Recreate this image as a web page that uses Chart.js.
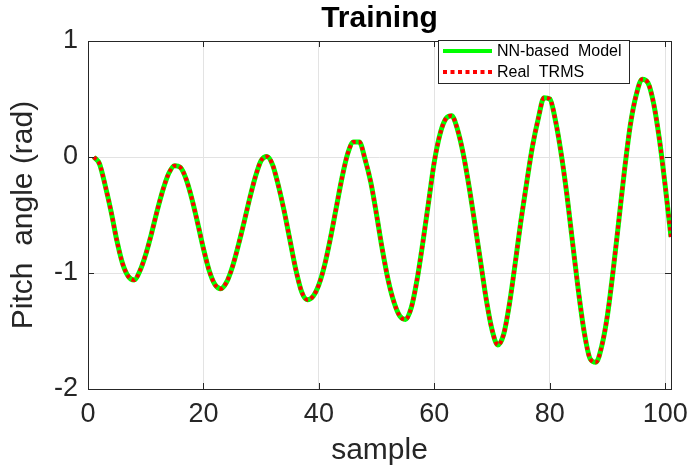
<!DOCTYPE html>
<html>
<head>
<meta charset="utf-8">
<script src="https://cdn.jsdelivr.net/npm/chart.js@4/dist/chart.umd.min.js"></script>
<style>
html,body{margin:0;padding:0;background:#fff;}
#wrap{width:689px;height:469px;position:relative;}
</style>
</head>
<body>
<div id="wrap"><canvas id="c" width="689" height="469"></canvas></div>
<script>
const samples = [1,2,3,4,5,6,7,8,9,10,11,12,13,14,15,16,17,18,19,20,21,22,23,24,25,26,27,28,29,30,31,32,33,34,35,36,37,38,39,40,41,42,43,44,45,46,47,48,49,50,51,52,53,54,55,56,57,58,59,60,61,62,63,64,65,66,67,68,69,70,71,72,73,74,75,76,77,78,79,80,81,82,83,84,85,86,87,88,89,90,91,92,93,94,95,96,97,98,99,100,101];
const nnModel = [0,-0.06,-0.25,-0.47,-0.72,-0.92,-1.03,-1.06,-0.98,-0.84,-0.66,-0.46,-0.28,-0.14,-0.075,-0.09,-0.19,-0.36,-0.57,-0.79,-0.98,-1.1,-1.135,-1.08,-0.95,-0.77,-0.57,-0.36,-0.17,-0.03,0.005,-0.07,-0.25,-0.47,-0.72,-0.97,-1.16,-1.23,-1.2,-1.1,-0.93,-0.7,-0.44,-0.18,0.03,0.13,0.13,-0.02,-0.22,-0.5,-0.8,-1.06,-1.25,-1.37,-1.4,-1.3,-1.06,-0.74,-0.39,-0.04,0.2,0.33,0.355,0.24,0.03,-0.25,-0.57,-0.9,-1.23,-1.49,-1.62,-1.53,-1.27,-0.92,-0.55,-0.22,0.09,0.33,0.51,0.5,0.31,0.02,-0.34,-0.76,-1.17,-1.52,-1.74,-1.77,-1.63,-1.36,-0.97,-0.53,-0.09,0.29,0.54,0.67,0.64,0.46,0.15,-0.25,-0.69];
const realTRMS = [0,-0.06,-0.25,-0.47,-0.72,-0.92,-1.03,-1.06,-0.98,-0.84,-0.66,-0.46,-0.28,-0.14,-0.075,-0.09,-0.19,-0.36,-0.57,-0.79,-0.98,-1.1,-1.135,-1.08,-0.95,-0.77,-0.57,-0.36,-0.17,-0.03,0.005,-0.07,-0.25,-0.47,-0.72,-0.97,-1.16,-1.23,-1.2,-1.1,-0.93,-0.7,-0.44,-0.18,0.03,0.13,0.13,-0.02,-0.22,-0.5,-0.8,-1.06,-1.25,-1.37,-1.4,-1.3,-1.06,-0.74,-0.39,-0.04,0.2,0.33,0.355,0.24,0.03,-0.25,-0.57,-0.9,-1.23,-1.49,-1.62,-1.53,-1.27,-0.92,-0.55,-0.22,0.09,0.33,0.51,0.5,0.31,0.02,-0.34,-0.76,-1.17,-1.52,-1.74,-1.77,-1.63,-1.36,-0.97,-0.53,-0.09,0.29,0.54,0.67,0.64,0.46,0.15,-0.25,-0.69];
const xTicks = [0,20,40,60,80,100];
const yTicks = [-2,-1,0,1];
const seriesNames = ['NN-based  Model','Real  TRMS'];

const TXT = '#262626';
const FONT = 'Arial, "Liberation Sans", Helvetica, sans-serif';

const boxPlugin = {
  id: 'boxPlugin',
  afterDatasetsDraw(chart) {
    const {ctx, chartArea: a, scales} = chart;
    ctx.save();
    ctx.strokeStyle = TXT;
    ctx.lineWidth = 1;
    ctx.strokeRect(Math.round(a.left)+0.5, Math.round(a.top)+0.5, Math.round(a.right-a.left), Math.round(a.bottom-a.top));
    const tl = 6;
    ctx.beginPath();
    xTicks.forEach(v => {
      const x = Math.round(scales.x.getPixelForValue(v))+0.5;
      ctx.moveTo(x, a.bottom); ctx.lineTo(x, a.bottom - tl);
      ctx.moveTo(x, a.top); ctx.lineTo(x, a.top + tl);
    });
    yTicks.forEach(v => {
      const y = Math.round(scales.y.getPixelForValue(v))+0.5;
      ctx.moveTo(a.left, y); ctx.lineTo(a.left + tl, y);
      ctx.moveTo(a.right, y); ctx.lineTo(a.right - tl, y);
    });
    ctx.stroke();
    // legend
    const L = 438, T = 40, R = 629, B = 83;
    ctx.fillStyle = '#fff';
    ctx.fillRect(L, T, R-L, B-T);
    ctx.strokeStyle = TXT;
    ctx.strokeRect(L+0.5, T+0.5, R-L, B-T);
    const order = [chart.data.datasets[0], chart.data.datasets[1]];
    const rows = [51, 72];
    order.forEach((ds, i) => {
      ctx.save();
      ctx.strokeStyle = ds.borderColor;
      ctx.lineWidth = 4;
      ctx.setLineDash(ds.borderDash ? [4,3.5] : []);
      ctx.beginPath();
      ctx.moveTo(443, rows[i]); ctx.lineTo(492, rows[i]);
      ctx.stroke();
      ctx.restore();
      ctx.fillStyle = '#000';
      ctx.font = '16px ' + FONT;
      ctx.textBaseline = 'middle';
      ctx.textAlign = 'left';
      ctx.fillText(ds.label, 497, rows[i]+1);
    });
    ctx.restore();
  }
};

new Chart(document.getElementById('c'), {
  type: 'line',
  data: {
    datasets: [
      {label: seriesNames[0], data: samples.map((s,i)=>({x:s, y:nnModel[i]})), borderColor: '#00ff00', borderWidth: 5, pointRadius: 0, cubicInterpolationMode: 'monotone', order: 2},
      {label: seriesNames[1], data: samples.map((s,i)=>({x:s, y:realTRMS[i]})), borderColor: '#ff0000', borderWidth: 4, borderDash: [3.5,3], pointRadius: 0, cubicInterpolationMode: 'monotone', order: 1}
    ]
  },
  options: {
    responsive: false,
    animation: false,
    layout: {padding: {top: 0, right: 18, left: 0, bottom: 0}},
    plugins: {
      legend: {display: false},
      tooltip: {enabled: false},
      title: {display: true, text: 'Training', color: '#000', fullSize: false,
        font: {family: FONT, size: 30, weight: 'bold', lineHeight: 1.2}, padding: {top: 1, bottom: 4}}
    },
    scales: {
      x: {
        type: 'linear', min: 0, max: 101,
        afterFit: s => { s.height = 80; s.paddingLeft = 0; s.paddingRight = 0; },
        afterBuildTicks: s => { s.ticks = xTicks.map(v => ({value: v})); },
        ticks: {color: TXT, font: {family: FONT, size: 27}, padding: 9, maxRotation: 0, autoSkip: false},
        grid: {color: '#e3e3e3', drawTicks: false},
        border: {display: false},
        title: {display: true, text: 'sample', color: TXT, font: {family: FONT, size: 30}, padding: {top: 0, bottom: 0}}
      },
      y: {
        min: -2, max: 1,
        afterFit: s => { s.width = 88; s.paddingTop = 0; s.paddingBottom = 0; },
        afterBuildTicks: s => { s.ticks = yTicks.map(v => ({value: v})); },
        ticks: {color: TXT, font: {family: FONT, size: 27}, padding: 10},
        grid: {color: '#e3e3e3', drawTicks: false},
        border: {display: false},
        title: {display: true, text: 'Pitch  angle (rad)', color: TXT, font: {family: FONT, size: 30}, padding: {top: 6, bottom: 0}}
      }
    }
  },
  plugins: [boxPlugin]
});
</script>
</body>
</html>
